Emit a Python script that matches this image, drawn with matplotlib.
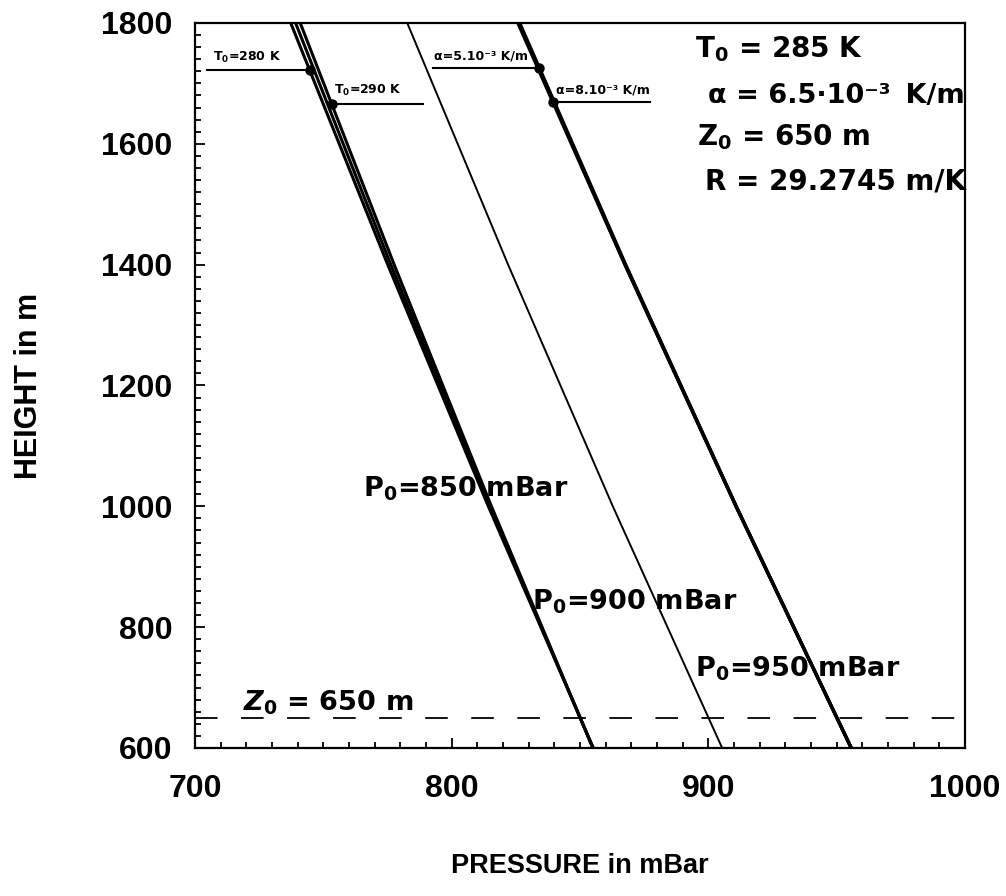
import matplotlib.pyplot as plt
from matplotlib.ticker import MultipleLocator
import numpy as np

plt.rcParams['font.family'] = ['Liberation Sans', 'DejaVu Sans']
plt.rcParams['font.weight'] = 'bold'
plt.rcParams['mathtext.fontset'] = 'custom'
plt.rcParams['mathtext.rm'] = 'DejaVu Sans:bold'
plt.rcParams['mathtext.bf'] = 'DejaVu Sans:bold'
plt.rcParams['mathtext.it'] = 'DejaVu Sans:italic:bold'
plt.rcParams['mathtext.default'] = 'rm'

WIDE = 'DejaVu Sans'

# --- DATA: pressure (mBar) at a few heights (m) ---
heights = [600, 1000, 1400, 1800]

# P0 = 850 mBar, three surface temperatures
p850_T280 = [855.2, 814.3, 775.1, 737.3]
p850_T285 = [855.1, 814.9, 776.3, 739.2]
p850_T290 = [855.0, 815.5, 777.6, 741.0]

# P0 = 900 mBar
p900 = [905.4, 862.8, 822.0, 782.7]

# P0 = 950 mBar, three lapse rates
p950_a5 = [955.7, 910.9, 867.8, 826.5]
p950_a65 = [955.7, 910.8, 867.6, 826.2]
p950_a8 = [955.7, 910.8, 867.5, 825.8]

z0 = 650

# --- FIGURE ---
fig = plt.figure(figsize=(10.06, 8.96), dpi=100)
ax = fig.add_axes([0.1938, 0.1652, 0.7654, 0.8092])

for p in (p850_T280, p850_T285, p850_T290):
    ax.plot(p, heights, color='black', lw=2.2)
ax.plot(p900, heights, color='black', lw=1.4)
for p in (p950_a5, p950_a65, p950_a8):
    ax.plot(p, heights, color='black', lw=2.4)

ax.axhline(z0, color='black', lw=1.3, linestyle=(0, (12.5, 13)))

ax.set_xlim(700, 1000)
ax.set_ylim(600, 1800)
ax.xaxis.set_major_locator(MultipleLocator(100))
ax.xaxis.set_minor_locator(MultipleLocator(10))
ax.yaxis.set_major_locator(MultipleLocator(200))
ax.yaxis.set_minor_locator(MultipleLocator(20))
ax.tick_params(which='both', direction='in', width=1.3, labelsize=23)
ax.tick_params(axis='x', which='major', pad=19)
ax.tick_params(axis='y', which='major', pad=16)
ax.tick_params(which='major', length=7)
ax.tick_params(which='minor', length=4)
for s in ax.spines.values():
    s.set_linewidth(1.6)

ax.set_xlabel('PRESSURE in mBar', fontsize=19.5, fontweight='bold', labelpad=35)
ax.set_ylabel('HEIGHT in m', fontsize=22, fontweight='bold', labelpad=41)

# --- pointer labels for the parameter variants ---
def pointer(text, line, z, x_end, text_x):
    xd = np.interp(z, heights, line)
    ax.plot([min(xd, x_end), max(xd, x_end)], [z, z], color='black', lw=1.5)
    ax.plot([xd], [z], 'o', color='black', ms=6.5)
    ax.text(text_x, z + 9, text, fontsize=9, family=WIDE, ha='left', va='bottom')

pointer(r'T$_0$=280 K', p850_T280, 1722, 704.7, 707)
pointer(r'T$_0$=290 K', p850_T290, 1666, 788.8, 754)
pointer('α=5.10⁻³ K/m', p950_a5, 1726, 792.7, 793)
pointer('α=8.10⁻³ K/m', p950_a8, 1669, 877.3, 840.5)

# --- curve labels ---
ax.text(765.4, 1016, r'P$_0$=850 mBar', fontsize=19.5, family=WIDE)
ax.text(831.3, 830, r'P$_0$=900 mBar', fontsize=19.5, family=WIDE)
ax.text(894.8, 718, r'P$_0$=950 mBar', fontsize=19.5, family=WIDE)
ax.text(718.7, 662, r'$\mathit{Z_0}$ = 650 m', fontsize=19.5, family=WIDE)

# --- parameter block ---
ax.text(894.8, 1744, r'T$_0$ = 285 K', fontsize=20, family=WIDE)
ax.text(899.9, 1668, 'α = 6.5·10⁻³ \u2009K/m', fontsize=19.5, family=WIDE)
ax.text(895.6, 1598, r'Z$_0$ = 650 m', fontsize=20, family=WIDE)
ax.text(898.7, 1525, 'R = 29.2745 m/K', fontsize=20, family=WIDE)

fig.savefig('out.png', dpi=100)
